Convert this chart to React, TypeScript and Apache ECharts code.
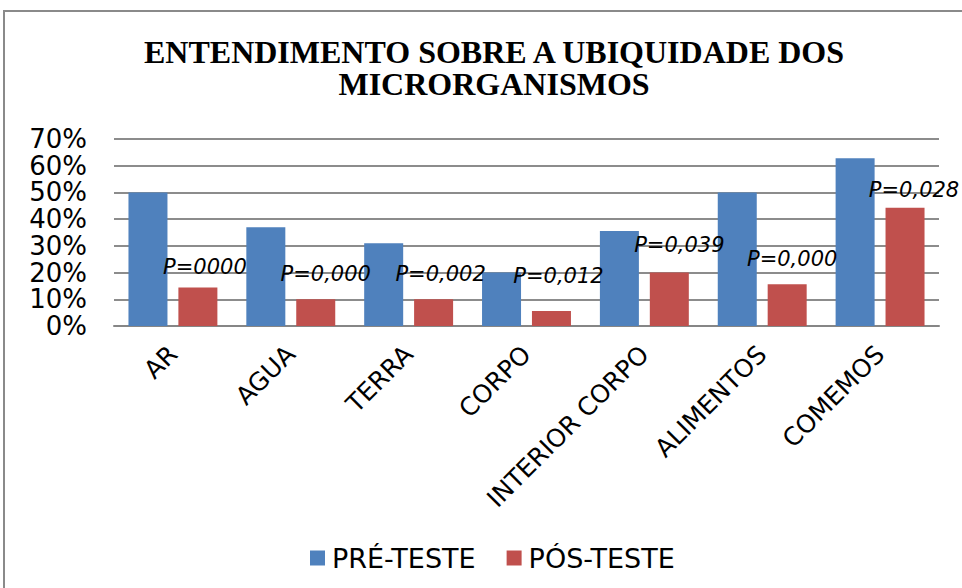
import React, { useEffect, useRef } from "react";
import * as echarts from "echarts";

const titleLines = ["ENTENDIMENTO SOBRE A UBIQUIDADE DOS", "MICRORGANISMOS"];
const categories = ["AR", "AGUA", "TERRA", "CORPO", "INTERIOR CORPO", "ALIMENTOS", "COMEMOS"];
const seriesNames = ["PRÉ-TESTE", "PÓS-TESTE"];
const preTeste = [50, 37, 31, 20, 35.6, 50, 62.8];
const posTeste = [14.4, 10, 10, 5.6, 20, 15.6, 44.3];
const pLabels = ["P=0000", "P=0,000", "P=0,002", "P=0,012", "P=0,039", "P=0,000", "P=0,028"];
const yTicks = [0, 10, 20, 30, 40, 50, 60, 70];

// label placement tweaks (layout only)
const pLabelOffsets = [
  [7, -10],
  [10, -14],
  [7, -14],
  [7, -24],
  [10, -17],
  [5, -14],
  [9, -7],
];

export default function App() {
  const ref = useRef<HTMLDivElement>(null);
  useEffect(() => {
    if (!ref.current) return;
    const chart = echarts.init(ref.current, null, { renderer: "svg" });
    const sans = "DejaVu Sans";
    const titleStyle = {
      fontFamily: "Liberation Serif",
      fontWeight: "bold",
      fontSize: 32,
      lineHeight: 30,
      color: "#000",
    };
    chart.setOption({
      animation: false,
      backgroundColor: "#ffffff",
      title: titleLines.map((t, i) => ({
        text: t,
        left: 489,
        top: 32 + i * 32,
        textAlign: "center",
        textStyle: titleStyle,
      })),
      graphic: [
        {
          type: "rect",
          shape: { x: 4, y: 11, width: 1000, height: 1000 },
          style: { fill: "none", stroke: "#8a8a8a", lineWidth: 2 },
          silent: true,
        },
      ],
      legend: {
        data: seriesNames,
        left: 305,
        top: 538,
        icon: "rect",
        itemWidth: 15,
        itemHeight: 15,
        itemGap: 31,
        textStyle: {
          fontFamily: sans,
          fontSize: 27,
          lineHeight: 30,
          color: "#000",
          padding: [0, 0, 0, 2],
        },
      },
      grid: { left: 114, right: 23, top: 139, bottom: 262, containLabel: false },
      xAxis: {
        type: "category",
        data: categories,
        axisTick: { show: false },
        axisLine: { lineStyle: { color: "#868686", width: 2 } },
        axisLabel: {
          rotate: 45,
          interval: 0,
          margin: 24,
          verticalAlign: "middle",
          fontFamily: sans,
          fontSize: 25,
          lineHeight: 28,
          color: "#000",
        },
      },
      yAxis: {
        type: "value",
        min: 0,
        max: yTicks[yTicks.length - 1],
        interval: 10,
        axisLine: { show: false },
        axisTick: { show: false },
        splitLine: { lineStyle: { color: "#8c8c8c", width: 2 } },
        axisLabel: {
          margin: 27,
          fontFamily: sans,
          fontSize: 26,
          lineHeight: 24,
          color: "#000",
          formatter: (v: number) => `${v}%`,
        },
      },
      series: [
        {
          name: seriesNames[0],
          type: "bar",
          data: preTeste,
          barWidth: 39,
          barGap: "28%",
          itemStyle: { color: "#4F81BD" },
        },
        {
          name: seriesNames[1],
          type: "bar",
          data: posTeste.map((v, i) => ({
            value: v,
            label: { offset: pLabelOffsets[i] },
          })),
          barWidth: 39,
          barGap: "28%",
          itemStyle: { color: "#C0504D" },
          label: {
            show: true,
            position: "top",
            distance: 0,
            fontFamily: sans,
            fontStyle: "italic",
            fontSize: 21,
            lineHeight: 22,
            color: "#000",
            formatter: (p: any) => pLabels[p.dataIndex],
          },
        },
      ],
    });
    return () => chart.dispose();
  }, []);
  return (
    <div
      ref={ref}
      style={{ position: "fixed", left: 0, top: 0, width: 962, height: 588 }}
    />
  );
}
